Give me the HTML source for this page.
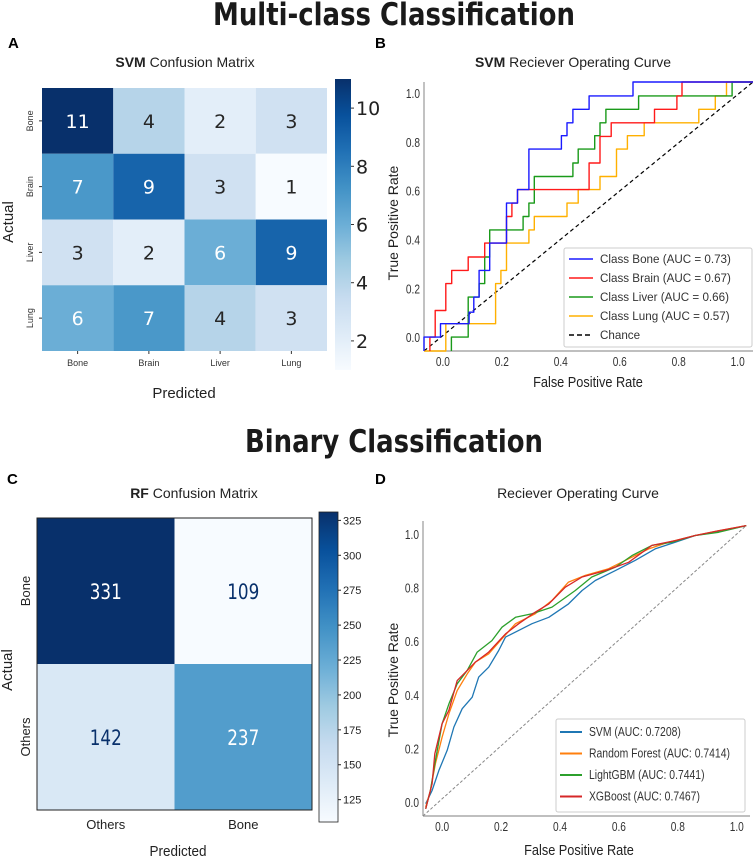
<!DOCTYPE html>
<html><head><meta charset="utf-8"><style>
html,body{margin:0;padding:0;background:#fff;}
svg{display:block;font-family:"Liberation Sans","DejaVu Sans",sans-serif;}
</style></head><body>
<svg id="fig" width="755" height="859" viewBox="0 0 755 859" xmlns="http://www.w3.org/2000/svg">
<rect width="755" height="859" fill="#fff"/>
<text x="394" y="25" text-anchor="middle" font-size="31" font-weight="bold" fill="#1a1a1a" textLength="362" lengthAdjust="spacingAndGlyphs" font-family="DejaVu Sans, sans-serif">Multi-class Classification</text>
<text x="394" y="452" text-anchor="middle" font-size="31" font-weight="bold" fill="#1a1a1a" textLength="298" lengthAdjust="spacingAndGlyphs" font-family="DejaVu Sans, sans-serif">Binary Classification</text>
<text x="8" y="48" font-size="15" font-weight="bold">A</text>
<text x="375" y="48" font-size="15" font-weight="bold">B</text>
<text x="7" y="484" font-size="15" font-weight="bold">C</text>
<text x="375" y="484" font-size="15" font-weight="bold">D</text>
<g id="pA"></g>
<g id="pB"></g>
<g id="pC"></g>
<g id="pD"></g>
</svg>
<script>
// ---------- data ----------
const cmAClasses = ["Bone","Brain","Liver","Lung"];
const cmAValues = [[11,4,2,3],[7,9,3,1],[3,2,6,9],[6,7,4,3]];
const cmATicks = [2,4,6,8,10];
const cmBClasses = ["Others","Bone"];
const cmBRowLabels = ["Bone","Others"];
const cmBValues = [[331,109],[142,237]];
const cmBTicks = [125,150,175,200,225,250,275,300,325];

const rocBoneFpr = [-0.064,-0.064,-0.008,-0.008,0.089,0.089,0.105,0.105,0.123,0.123,0.159,0.159,0.216,0.216,0.253,0.253,0.292,0.292,0.402,0.402,0.421,0.421,0.441,0.441,0.496,0.496,0.645,0.645,1.052];
const rocBoneTpr = [-0.057,0,0,0.055,0.055,0.102,0.102,0.164,0.164,0.273,0.273,0.385,0.385,0.549,0.549,0.604,0.604,0.770,0.770,0.825,0.825,0.878,0.878,0.933,0.933,0.988,0.988,1.045,1.045];
const rocBrainFpr = [-0.044,-0.044,-0.026,-0.026,0.010,0.010,0.030,0.030,0.086,0.086,0.142,0.142,0.216,0.216,0.234,0.234,0.253,0.253,0.329,0.329,0.496,0.496,0.533,0.533,0.571,0.571,0.718,0.718,0.794,0.794,0.811,0.811,1.052];
const rocBrainTpr = [-0.057,0,0,0.109,0.109,0.219,0.219,0.273,0.273,0.328,0.328,0.385,0.385,0.494,0.494,0.549,0.549,0.604,0.604,0.604,0.604,0.713,0.713,0.822,0.822,0.878,0.878,0.933,0.933,0.988,0.988,1.045,1.045];
const rocLiverFpr = [0.029,0.029,0.086,0.086,0.123,0.123,0.142,0.142,0.159,0.159,0.272,0.272,0.292,0.292,0.310,0.310,0.441,0.441,0.459,0.459,0.515,0.515,0.533,0.533,0.553,0.553,0.664,0.664,0.981,0.981,1.052];
const rocLiverTpr = [-0.057,0,0,0.164,0.164,0.219,0.219,0.328,0.328,0.439,0.439,0.494,0.494,0.549,0.549,0.658,0.658,0.713,0.713,0.770,0.770,0.825,0.825,0.878,0.878,0.933,0.933,0.988,0.988,1.045,1.045];
const rocLungFpr = [-0.064,0.010,0.010,0.179,0.179,0.197,0.197,0.216,0.216,0.292,0.292,0.310,0.310,0.421,0.421,0.459,0.459,0.533,0.533,0.589,0.589,0.626,0.626,0.683,0.683,0.868,0.868,0.924,0.924,0.962,0.962,1.052];
const rocLungTpr = [-0.057,-0.057,0.055,0.055,0.219,0.219,0.273,0.273,0.385,0.385,0.439,0.439,0.494,0.494,0.549,0.549,0.604,0.604,0.658,0.658,0.770,0.770,0.825,0.825,0.878,0.878,0.933,0.933,0.988,0.988,1.045,1.045];
const rocBLabels = ["Class Bone (AUC = 0.73)","Class Brain (AUC = 0.67)","Class Liver (AUC = 0.66)","Class Lung (AUC = 0.57)"];
const rocTicks = [0.0,0.2,0.4,0.6,0.8,1.0];

const svmFpr = [-0.056,-0.034,-0.011,0.017,0.040,0.068,0.102,0.124,0.158,0.192,0.215,0.260,0.305,0.362,0.429,0.475,0.520,0.588,0.655,0.723,0.791,0.859,0.927,1.032];
const svmTpr = [-0.006,0.043,0.118,0.193,0.280,0.348,0.391,0.466,0.503,0.565,0.615,0.640,0.665,0.689,0.739,0.789,0.826,0.863,0.901,0.944,0.969,0.994,1.006,1.031];
const rfFpr = [-0.056,-0.040,-0.023,0,0.023,0.051,0.085,0.113,0.158,0.203,0.249,0.316,0.373,0.429,0.486,0.565,0.633,0.701,0.768,0.859,0.938,1.032];
const rfTpr = [-0.019,0.043,0.143,0.242,0.329,0.416,0.478,0.522,0.553,0.609,0.665,0.702,0.752,0.820,0.845,0.870,0.907,0.944,0.969,0.994,1.012,1.031];
const lgbFpr = [-0.056,-0.040,-0.023,0,0.023,0.051,0.085,0.119,0.169,0.203,0.249,0.305,0.373,0.452,0.508,0.588,0.644,0.712,0.780,0.859,0.938,1.032];
const lgbTpr = [-0.025,0.043,0.155,0.292,0.366,0.441,0.491,0.559,0.602,0.652,0.689,0.702,0.727,0.789,0.839,0.876,0.919,0.957,0.969,0.994,1.006,1.031];
const xgbFpr = [-0.056,-0.034,-0.025,0,0.023,0.051,0.079,0.113,0.158,0.215,0.260,0.316,0.362,0.418,0.475,0.554,0.633,0.712,0.791,0.859,0.938,1.032];
const xgbTpr = [-0.025,0.068,0.180,0.292,0.342,0.453,0.484,0.522,0.559,0.627,0.665,0.708,0.739,0.801,0.839,0.863,0.894,0.957,0.975,0.994,1.012,1.031];
const rocDLabels = ["SVM (AUC: 0.7208)","Random Forest (AUC: 0.7414)","LightGBM (AUC: 0.7441)","XGBoost (AUC: 0.7467)"];

// ---------- helpers ----------
const NS="http://www.w3.org/2000/svg";
function mk(parent,tag,attrs,txt){const e=document.createElementNS(NS,tag);for(const k in attrs)e.setAttribute(k,attrs[k]);if(txt!==undefined)e.textContent=txt;parent.appendChild(e);return e;}
const blues=[[247,251,255],[222,235,247],[198,219,239],[158,202,225],[107,174,214],[66,146,198],[33,113,181],[8,81,156],[8,48,107]];
function cmap(t){t=Math.max(0,Math.min(1,t));const p=t*8,i=Math.min(7,Math.floor(p)),f=p-i;const a=blues[i],b=blues[i+1];return "rgb("+a.map((v,k)=>Math.round(v+(b[k]-v)*f)).join(",")+")";}

// ---------- Panel A ----------
(function(){
const g=document.getElementById('pA');
const x0=42,x1=327,y0=88,y1=351,vmin=1,vmax=11;
const cw=(x1-x0)/cmAClasses.length,ch=(y1-y0)/cmAClasses.length;
mk(g,'text',{x:185,y:67,'text-anchor':'middle','font-size':14,fill:'#222',}).innerHTML='<tspan font-weight="bold">SVM</tspan> Confusion Matrix';
cmAValues.forEach((row,r)=>row.forEach((v,c)=>{
  const t=(v-vmin)/(vmax-vmin);
  const cell=mk(g,'rect',{x:x0+c*cw,y:y0+r*ch,width:cw,height:ch,fill:cmap(t)});
  
  
  const tx=mk(g,'text',{x:x0+(c+0.5)*cw,y:y0+(r+0.5)*ch+7,'text-anchor':'middle','font-size':19,fill:t>0.45?'#fff':'#262626','font-family':'DejaVu Sans, sans-serif'},String(v));
  
  
}));
cmAClasses.forEach((n,i)=>{
  const cx=x0+(i+0.5)*cw;
  mk(g,'line',{x1:cx,x2:cx,y1:y1,y2:y1+3,stroke:'#333'});
  const t=mk(g,'text',{x:cx,y:366,'text-anchor':'middle','font-size':9,fill:'#333'},n);
  
  
  const cy=y0+(i+0.5)*ch;
  mk(g,'line',{x1:x0-3,x2:x0,y1:cy,y2:cy,stroke:'#333'});
  const yl=mk(g,'text',{x:0,y:0,transform:`translate(33,${cy}) rotate(-90)`,'text-anchor':'middle','font-size':9,fill:'#333'},n);
  
  
});
mk(g,'text',{x:184,y:398,'text-anchor':'middle','font-size':15,fill:'#222',},'Predicted');
mk(g,'text',{x:0,y:0,transform:'translate(13,222) rotate(-90)','text-anchor':'middle','font-size':15,fill:'#222',},'Actual');
const bx=335,bw=16,by0=79,by1=370;
const defs=mk(g,'defs',{});const lg=mk(defs,'linearGradient',{id:'gA',x1:0,y1:1,x2:0,y2:0});
for(let i=0;i<=16;i++)mk(lg,'stop',{offset:i/16,'stop-color':cmap(i/16)});
mk(g,'rect',{x:bx,y:by0,width:bw,height:by1-by0,fill:'url(#gA)',});
cmATicks.forEach(v=>{const y=by1-(v-vmin)/(vmax-vmin)*(by1-by0);
  mk(g,'line',{x1:bx+bw,x2:bx+bw+3,y1:y,y2:y,stroke:'#333'});
  const t=mk(g,'text',{x:bx+bw+5,y:y+7,'font-size':19,fill:'#222','font-family':'DejaVu Sans, sans-serif'},String(v));
  
  });
})();

// ---------- ROC helper ----------
function rocAxes(g,o){
  const sx=v=>o.px0+(v-o.xmin)*(o.px1-o.px0)/(o.xmax-o.xmin);
  const sy=v=>o.py1-(v-o.ymin)*(o.py1-o.py0)/(o.ymax-o.ymin);
  mk(g,'line',{x1:o.px0,x2:o.px0,y1:o.py0,y2:o.py1,stroke:'#999','stroke-width':1.2});
  mk(g,'line',{x1:o.px0,x2:o.px1,y1:o.py1,y2:o.py1,stroke:'#999','stroke-width':1.2});
  rocTicks.forEach(v=>{
    const tx=mk(g,'text',{x:sx(v),y:o.py1+15,'text-anchor':'middle','font-size':13,fill:'#333',transform:`translate(${sx(v)},0) scale(0.78,1) translate(${-sx(v)},0)`},v.toFixed(1));
    
    
    const ty=mk(g,'text',{x:o.px0-4,y:sy(v)+5,'text-anchor':'end','font-size':13,fill:'#333',transform:`translate(${o.px0-4},0) scale(0.78,1) translate(${-(o.px0-4)},0)`},v.toFixed(1));
    
    
  });
  return {sx,sy};
}
function line(g,sx,sy,xs,ys,color,name,w){
  const p=mk(g,'polyline',{points:xs.map((x,i)=>sx(x).toFixed(1)+','+sy(ys[i]).toFixed(1)).join(' '),fill:'none',stroke:color,'stroke-width':w||1.4,'stroke-linejoin':'round'});
  
  
}

// ---------- Panel B ----------
(function(){
const g=document.getElementById('pB');
const o={px0:424,px1:753,py0:82,py1:351,xmin:-0.064,xmax:1.052,ymin:-0.057,ymax:1.045};
mk(g,'text',{x:573,y:67,'text-anchor':'middle','font-size':14,fill:'#222',}).innerHTML='<tspan font-weight="bold">SVM</tspan> Reciever Operating Curve';
const {sx,sy}=rocAxes(g,o);
mk(g,'line',{x1:sx(o.xmin),y1:sy(o.ymin),x2:sx(o.xmax),y2:sy(o.ymax),stroke:'#000','stroke-width':1.2,'stroke-dasharray':'4,3',});
line(g,sx,sy,rocLungFpr,rocLungTpr,'#ffb000','roc-line-lung');
line(g,sx,sy,rocLiverFpr,rocLiverTpr,'#1a9a1a','roc-line-liver');
line(g,sx,sy,rocBrainFpr,rocBrainTpr,'#ff1a1a','roc-line-brain');
line(g,sx,sy,rocBoneFpr,rocBoneTpr,'#1a1aff','roc-line-bone');
mk(g,'text',{x:588,y:387,'text-anchor':'middle','font-size':15,fill:'#222',transform:'translate(588,0) scale(0.85,1) translate(-588,0)',},'False Positive Rate');
mk(g,'text',{x:0,y:0,transform:'translate(398,223) rotate(-90)','text-anchor':'middle','font-size':14,fill:'#222',},'True Positive Rate');
const leg=mk(g,'g',{});
mk(leg,'rect',{x:564,y:248,width:188,height:99,fill:'#fff',stroke:'#ccc',rx:2});
const cols=['#1a1aff','#ff1a1a','#1a9a1a','#ffb000','#000'];
const labs=rocBLabels.concat(['Chance']);
labs.forEach((l,i)=>{const y=259+i*19;
  const e=mk(leg,'g',{});
  
  
  mk(e,'line',{x1:569,x2:593,y1:y,y2:y,stroke:cols[i],'stroke-width':1.6,'stroke-dasharray':i==4?'5,3':'none'});
  mk(e,'text',{x:600,y:y+4,'font-size':12,fill:'#333',transform:'translate(600,0) scale(0.97,1) translate(-600,0)'},l);});
})();

// ---------- Panel C ----------
(function(){
const g=document.getElementById('pC');
const x0=37,x1=312,y0=518,y1=810,vmin=109,vmax=331;
const cw=(x1-x0)/2,ch=(y1-y0)/2;
mk(g,'text',{x:194,y:498,'text-anchor':'middle','font-size':14,fill:'#222',}).innerHTML='<tspan font-weight="bold">RF</tspan> Confusion Matrix';
cmBValues.forEach((row,r)=>row.forEach((v,c)=>{
  const t=(v-vmin)/(vmax-vmin);
  const cell=mk(g,'rect',{x:x0+c*cw,y:y0+r*ch,width:cw,height:ch,fill:cmap(t)});
  
  
  const cx=x0+(c+0.5)*cw;
  const tx=mk(g,'text',{x:cx,y:y0+(r+0.5)*ch+8,'text-anchor':'middle','font-size':21,fill:t>0.5?'#fff':'#08306b','font-family':'DejaVu Sans, sans-serif',transform:`translate(${cx},0) scale(0.8,1) translate(${-cx},0)`},String(v));
  
  
}));
mk(g,'rect',{x:x0,y:y0,width:x1-x0,height:y1-y0,fill:'none',stroke:'#222','stroke-width':1});
cmBClasses.forEach((n,i)=>{
  const cx=x0+(i+0.5)*cw;
  const t=mk(g,'text',{x:cx,y:829,'text-anchor':'middle','font-size':13,fill:'#222'},n);
  
  
});
cmBRowLabels.forEach((n,i)=>{
  const cy=y0+(i+0.5)*ch;
  const t=mk(g,'text',{x:0,y:0,transform:`translate(30,${cy}) rotate(-90)`,'text-anchor':'middle','font-size':13,fill:'#222'},n);
  
  
});
mk(g,'text',{x:178,y:856,'text-anchor':'middle','font-size':15,fill:'#222',transform:'translate(178,0) scale(0.9,1) translate(-178,0)',},'Predicted');
mk(g,'text',{x:0,y:0,transform:'translate(12,670) rotate(-90)','text-anchor':'middle','font-size':15,fill:'#222',},'Actual');
const bx=319,bw=19,by0=512,by1=822;
const defs=mk(g,'defs',{});const lg=mk(defs,'linearGradient',{id:'gC',x1:0,y1:1,x2:0,y2:0});
for(let i=0;i<=16;i++)mk(lg,'stop',{offset:i/16,'stop-color':cmap(i/16)});
mk(g,'rect',{x:bx,y:by0,width:bw,height:by1-by0,fill:'url(#gC)',stroke:'#222','stroke-width':0.8,});
cmBTicks.forEach(v=>{const y=by1-(v-vmin)/(vmax-vmin)*(by1-by0);
  mk(g,'line',{x1:bx+bw,x2:bx+bw+3,y1:y,y2:y,stroke:'#222'});
  const t=mk(g,'text',{x:bx+bw+5,y:y+4,'font-size':11,fill:'#222'},String(v));
  
  });
})();

// ---------- Panel D ----------
(function(){
const g=document.getElementById('pD');
const o={px0:423,px1:750,py0:521,py1:816,xmin:-0.065,xmax:1.045,ymin:-0.052,ymax:1.048};
mk(g,'text',{x:578,y:498,'text-anchor':'middle','font-size':14,fill:'#222',},'Reciever Operating Curve');
const {sx,sy}=rocAxes(g,o);
mk(g,'line',{x1:sx(-0.065),y1:sy(-0.052),x2:sx(1.032),y2:sy(1.031),stroke:'#888','stroke-width':1,'stroke-dasharray':'3,2',});
line(g,sx,sy,svmFpr,svmTpr,'#1f77b4','roc-line-svm',1.3);
line(g,sx,sy,rfFpr,rfTpr,'#ff7f0e','roc-line-random-forest',1.3);
line(g,sx,sy,lgbFpr,lgbTpr,'#2ca02c','roc-line-lightgbm',1.3);
line(g,sx,sy,xgbFpr,xgbTpr,'#d62728','roc-line-xgboost',1.3);
mk(g,'text',{x:579,y:855,'text-anchor':'middle','font-size':15,fill:'#222',transform:'translate(579,0) scale(0.85,1) translate(-579,0)',},'False Positive Rate');
mk(g,'text',{x:0,y:0,transform:'translate(398,680) rotate(-90)','text-anchor':'middle','font-size':14,fill:'#222',},'True Positive Rate');
const leg=mk(g,'g',{});
mk(leg,'rect',{x:556,y:719,width:189,height:93,fill:'#fff',stroke:'#ccc',rx:2});
const cols=['#1f77b4','#ff7f0e','#2ca02c','#d62728'];
rocDLabels.forEach((l,i)=>{const y=732+i*21.5;
  const e=mk(leg,'g',{});
  
  
  mk(e,'line',{x1:560,x2:582,y1:y,y2:y,stroke:cols[i],'stroke-width':2});
  mk(e,'text',{x:589,y:y+4,'font-size':13,fill:'#333',transform:`translate(589,0) scale(0.8,1) translate(-589,0)`},l);});
})();
</script>
</body></html>
